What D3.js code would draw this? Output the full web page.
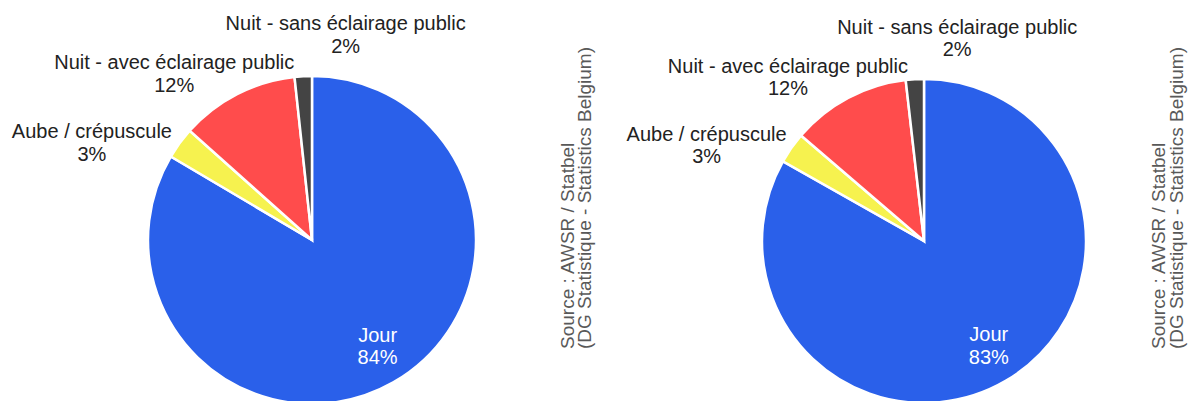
<!DOCTYPE html>
<html>
<head>
<meta charset="utf-8">
<script src="https://cdn.jsdelivr.net/npm/d3@7"></script>
<style>
  html, body { margin: 0; padding: 0; background: #fff; }
  svg { display: block; font-family: "Liberation Sans", Arial, sans-serif; }
</style>
</head>
<body>
<svg id="chart" width="1193" height="401"></svg>
<script>
// ---- data ----
const categories = ["Jour", "Aube / crépuscule", "Nuit - avec éclairage public", "Nuit - sans éclairage public"];
const colors = ["#2a60ea", "#f6f24f", "#ff4c4c", "#444444"];
const valuesLeft = [83.5, 3.1, 11.7, 1.7];
const valuesRight = [83.1, 3.1, 11.9, 1.8];
const pctLeft = ["84%", "3%", "12%", "2%"];
const pctRight = ["83%", "3%", "12%", "2%"];
const sourceLines = ["Source : AWSR / Statbel", "(DG Statistique - Statistics Belgium)"];

// ---- layout ----
// label positions in units of radius, relative to pie centre (first baseline)
const labelPos = [[0.40, 0.62], [-1.342, -0.62], [-0.84, -1.04], [0.205, -1.28]];
const lineH = 22.5;
const panels = [
  { cx: 312, cy: 240, r: 164, values: valuesLeft, pct: pctLeft, srcX: [574, 591], srcY: 349 },
  { cx: 924, cy: 241, r: 162, values: valuesRight, pct: pctRight, srcX: [1165, 1183], srcY: 349 }
];

const svg = d3.select("#chart");
const pie = d3.pie().sort(null).value(d => d.v).startAngle(0).endAngle(2 * Math.PI);

panels.forEach(p => {
  const data = categories.map((c, i) => ({ c, v: p.values[i], i }));
  const arcs = pie(data);
  const arc = d3.arc().innerRadius(0).outerRadius(p.r);
  const g = svg.append("g").attr("transform", `translate(${p.cx},${p.cy})`);
  g.selectAll("path.slice").data(arcs).join("path")
    .attr("class", "slice")
    .attr("d", arc)
    .attr("fill", d => colors[d.data.i])
    .attr("stroke", "#fff")
    .attr("stroke-width", 2.5)
    .attr("stroke-linejoin", "miter");

  const lab = g.selectAll("text.lab").data(arcs).join("text")
    .attr("class", "lab")
    .attr("text-anchor", "middle")
    .attr("font-size", 20)
    .attr("fill", d => d.data.i === 0 ? "#ffffff" : "#222222")
    .attr("x", d => labelPos[d.data.i][0] * p.r)
    .attr("y", d => labelPos[d.data.i][1] * p.r);
  lab.append("tspan")
    .attr("x", d => labelPos[d.data.i][0] * p.r)
    .text(d => d.data.c);
  lab.append("tspan")
    .attr("x", d => labelPos[d.data.i][0] * p.r)
    .attr("dy", lineH)
    .text(d => p.pct[d.data.i]);

  sourceLines.forEach((t, k) => {
    svg.append("text")
      .attr("transform", `translate(${p.srcX[k]},${p.srcY}) rotate(-90)`)
      .attr("text-anchor", "start")
      .attr("font-size", 19)
      .attr("fill", "#595959")
      .text(t);
  });
});
</script>
</body>
</html>
